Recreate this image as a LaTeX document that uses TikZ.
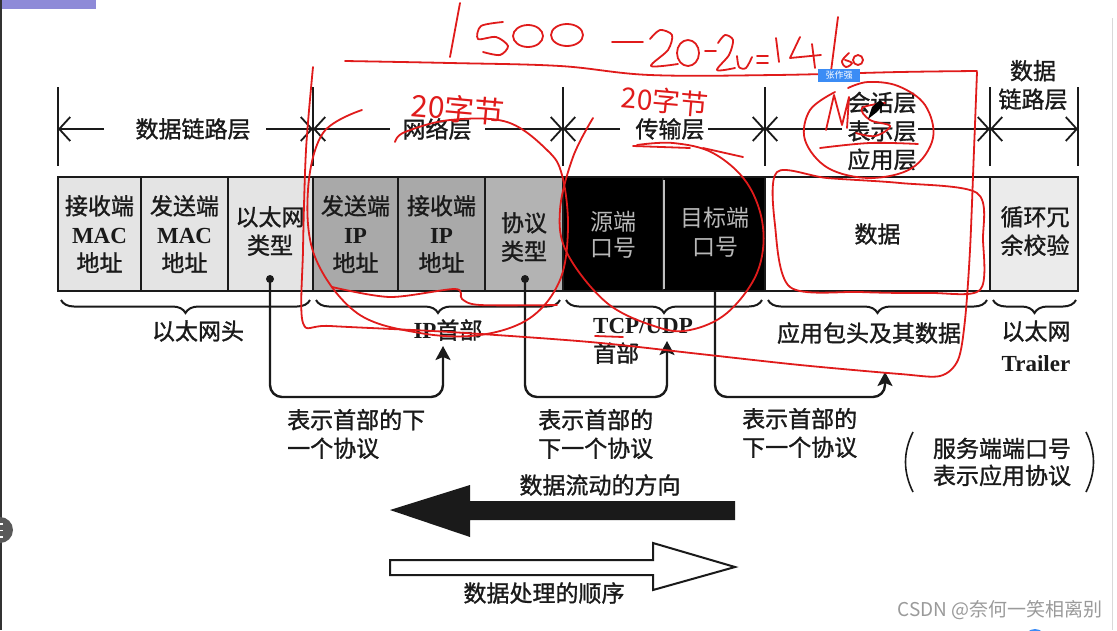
\documentclass[tikz,border=0pt]{standalone}
\usepackage{fontspec}
\setmainfont{Liberation Serif}
\newfontfamily\zh{Noto Sans CJK SC}[FakeBold=1.2]
\newfontfamily\zhl{Noto Sans CJK SC}
\usetikzlibrary{arrows.meta,decorations.pathreplacing,calc}
\definecolor{ink}{HTML}{1A1A1A}
\definecolor{penred}{HTML}{E01B1B}
\definecolor{lightcell}{HTML}{E4E4E4}
\definecolor{ipcell}{HTML}{A9A9A9}
\definecolor{protocell}{HTML}{B3B3B3}
\definecolor{crccell}{HTML}{EBEBEB}
\definecolor{tagblue}{HTML}{3B8CF5}
\definecolor{wmgray}{HTML}{9A9A9A}
\definecolor{barpurple}{HTML}{8E8AD8}
\begin{document}
\begin{tikzpicture}[x=1pt,y=-1pt,
  cell/.style={draw=ink, line width=2pt, minimum height=114pt, inner sep=0pt, align=center,
    font=\fontsize{23}{28.5}\selectfont\zh, text=ink},
  lbl/.style={font=\fontsize{23}{28.5}\selectfont\zh, inner sep=0pt, text=ink},
  vbar/.style={draw=ink, line width=2.4pt},
  dimarr/.style={draw=ink, line width=1.8pt, -{Straight Barb[length=11pt,width=24pt]}},
  dimboth/.style={draw=ink, line width=1.8pt, {Straight Barb[length=11pt,width=24pt]}-{Straight Barb[length=11pt,width=24pt]}},
  brc/.style={draw=ink, line width=2pt, decorate, decoration={brace, amplitude=13pt, mirror}},
  conn/.style={draw=ink, line width=2.4pt, rounded corners=12pt, -{Stealth[length=14pt,width=15pt,inset=3pt]}},
  dotn/.style={circle, fill=ink, inner sep=0pt, minimum size=8pt},
  redpen/.style={draw=penred, line width=1.8pt, line cap=round, line join=round},
  hw/.style={text=penred, inner sep=0pt},
  bigarrow/.style={draw=ink, line width=2pt}
]
\useasboundingbox (0,0) rectangle (1117,630);
\fill[white] (0,0) rectangle (1117,630);

% screen chrome
\fill[barpurple] (0,0) rectangle (96,9);
\fill[black!80] (0,0) rectangle (2,630);
\draw[black!15, line width=1pt] (1112,18) -- (1112,630);
\fill[black!65] (0,530) circle (13);
\fill[white] (0,523) rectangle (3,524.5);
\fill[white] (0,529.5) rectangle (3,531);
\fill[white] (0,536) rectangle (3,537.5);
\fill[tagblue] (1035,640) circle (11);

% ===== top layer dimension lines =====
\coordinate (b0) at (58,129);
\coordinate (b1) at (313,129);
\coordinate (b2) at (563,129);
\coordinate (b3) at (765,129);
\coordinate (b4) at (990,129);
\coordinate (b5) at (1078,129);
\foreach \b in {b0,b1,b2,b3,b4,b5} \draw[vbar] (\b) ++(0,-42) -- ++(0,79);

\node[lbl] (dll) at (193,129) {数据链路层};
\node[lbl] (nwl) at (437,129) {网络层};
\node[lbl] (trl) at (670,129) {传输层};
\node[lbl, align=center] (apl) at (882,131) {会话层\\表示层\\应用层};
\node[lbl, align=center] (dl2) at (1033,85) {数据\\链路层};

\coordinate (a0l) at (104,129); \coordinate (a0r) at (266,129);
\coordinate (a1l) at (390,129); \coordinate (a1r) at (485,129);
\coordinate (a2l) at (620,129); \coordinate (a2r) at (708,129);
\coordinate (a3l) at (842,129); \coordinate (a3r) at (918,129);
\draw[dimarr] (a0l) -- (b0);
\draw[dimarr] (a0r) -- (b1);
\draw[dimarr] (a1l) -- (b1);
\draw[dimarr] (a1r) -- (b2);
\draw[dimarr] (a2l) -- (b2);
\draw[dimarr] (a2r) -- (b3);
\draw[dimarr] (a3l) -- (b3);
\draw[dimarr] (a3r) -- (b4);
\draw[dimboth] (b4) -- (b5);

% ===== frame cells =====
\node[cell, fill=lightcell, minimum width=83pt] (rmac) at (99.5,234) {接收端\\{\rmfamily\bfseries MAC}\\地址};
\node[cell, fill=lightcell, minimum width=87pt] (smac) at (184.5,234) {发送端\\{\rmfamily\bfseries MAC}\\地址};
\node[cell, fill=lightcell, minimum width=85pt] (etype) at (270.5,234) {};
\node[cell, fill=ipcell, minimum width=85pt] (sip) at (355.5,234) {发送端\\{\rmfamily\bfseries IP}\\地址};
\node[cell, fill=ipcell, minimum width=87pt] (dip) at (441.5,234) {接收端\\{\rmfamily\bfseries IP}\\地址};
\node[cell, fill=protocell, minimum width=78pt] (proto) at (524,234) {};
\node[cell, fill=black, minimum width=100pt] (sport) at (613,234) {};
\node[cell, fill=black, minimum width=102pt] (dport) at (714,234) {};
\node[cell, fill=white, minimum width=225pt] (data) at (877.5,234) {数据};
\node[cell, fill=crccell, minimum width=88pt] (crc) at (1034,234) {};
\draw[black!25, line width=1.2pt] (sport.north east) ++(0,4) -- ($(sport.south east)+(0,-3)$);

\node[lbl, align=center] (etypet) at (270,231) {以太网\\类型};
\node[lbl, align=center] (protot) at (524,237) {协议\\类型};
\node[lbl, align=center, text=black!28, font=\fontsize{23}{26.5}\selectfont\zhl] (sportt) at (613,235) {源端\\口号};
\node[lbl, align=center, text=black!28, font=\fontsize{23}{29}\selectfont\zhl] (dportt) at (715,232) {目标端\\口号};
\node[lbl, align=center] (crct) at (1035,231) {循环冗\\余校验};

\node[dotn] (dot1) at (270,279) {};
\node[dotn] (dot2) at (525,279) {};

% ===== braces =====
\draw[brc] (61,300) -- (310,300);
\draw[brc] (316,300) -- (560,300);
\draw[brc] (566,300) -- (762,300);
\draw[brc] (768,300) -- (987,300);
\draw[brc] (993,300) -- (1076,300);

\node[lbl] (ethh) at (198,331) {以太网头};
\node[lbl] (iph) at (448,330) {{\rmfamily\bfseries IP}首部};
\node[lbl, align=left, anchor=west] (tcph) at (593,341) {{\rmfamily\bfseries TCP/UDP}\\首部};
\node[lbl] (apph) at (869,333) {应用包头及其数据};
\node[lbl, align=center] (trlh) at (1036,346) {以太网\\[3pt]{\rmfamily\bfseries Trailer}};

% ===== connectors =====
\coordinate (yb) at (0,397);
\coordinate (t1) at (443,346);
\coordinate (t2) at (667,341);
\coordinate (s3) at (715,292);
\coordinate (t3) at (885,372);
\draw[conn] (dot1.center) -- (dot1.center |- yb) -| (t1);
\draw[conn] (dot2.center) -- (dot2.center |- yb) -| (t2);
\draw[conn] (s3) -- (s3 |- yb) -| (t3);

\node[lbl, align=left, anchor=west] (n1) at (287,434) {表示首部的下\\一个协议};
\node[lbl, align=left, anchor=west] (n2) at (538,434) {表示首部的\\下一个协议};
\node[lbl, align=left, anchor=west] (n3) at (742,433) {表示首部的\\下一个协议};

\node[lbl, align=center, font=\fontsize{23}{27}\selectfont\zh] (svc) at (1002,462) {服务端端口号\\表示应用协议};
\draw[draw=ink, line width=1.6pt] (913,432) .. controls (903,452) and (903,472) .. (913,492);
\draw[draw=ink, line width=1.6pt] (1086,432) .. controls (1096,452) and (1096,472) .. (1086,492);

% ===== big arrows =====
\fill[ink] (390,510) -- (470,485) -- (470,501) -- (735,501) -- (735,520) -- (470,520) -- (470,537) -- cycle;
\draw[bigarrow, fill=white] (390,560) -- (653,560) -- (653,543) -- (735,567) -- (653,590) -- (653,575) -- (390,575) -- cycle;
\node[lbl] (flow) at (600,485) {数据流动的方向};
\node[lbl] (proc) at (544,593) {数据处理的顺序};

% watermark
\node[font=\fontsize{19}{19}\selectfont\zhl, text=wmgray, anchor=east, inner sep=0pt] (wm) at (1103,610) {CSDN @奈何一笑相离别};

% ===== red handwriting: outlines =====
\draw[redpen] plot[smooth, tension=0.6] coordinates {(345,61) (450,63) (560,66) (650,75) (775,75) (900,72) (977,71)};
\draw[redpen] plot[smooth, tension=0.5] coordinates {(313,67) (306,150) (303,250) (303,323) (330,326) (450,332) (590,342) (700,354) (800,365) (900,374) (940,376) (958,360) (965,320) (970,250) (974,150) (977,72)};
\draw[redpen] plot[smooth, tension=0.6] coordinates {(362,110) (323,133) (308,190) (315,257) (357,313) (420,333) (480,335) (530,318) (560,280) (568,227) (562,175) (547,150) (507,122) (450,120) (405,132) (395,142)};
\draw[redpen] plot[smooth, tension=0.5] coordinates {(332,287) (390,297) (455,289) (462,299) (480,305) (557,305)};
\draw[redpen] plot[smooth, tension=0.6] coordinates {(593,118) (573,157) (560,210) (567,253) (607,303) (657,327) (690,330) (727,313) (757,273) (763,227) (747,183) (713,153) (673,143) (637,145)};
\draw[redpen] (633,146) -- (690,148);
\draw[redpen] (703,148) -- (743,157);
\draw[redpen] plot[smooth, tension=0.6] coordinates {(835,92) (810,110) (805,140) (828,168) (870,178) (912,168) (933,138) (925,105) (898,86) (868,82) (848,88)};
\draw[redpen] plot[smooth, tension=0.6] coordinates {(820,148) (870,143) (918,144)};
\draw[redpen] plot[smooth cycle, tension=0.5] coordinates {(777,172) (775,225) (790,287) (860,292) (930,293) (980,290) (983,240) (977,193) (900,183) (827,178)};
\draw[redpen] (595,336) -- (623,337);

% ===== red handwriting: 1500-20-20=1460 =====
\draw[redpen] (460,3) -- (450,57);
\draw[redpen] plot[smooth, tension=0.5] coordinates {(503,22) (481,26) (478,39) (496,37) (508,46) (500,55) (483,52)};
\draw[redpen] (528,36) ellipse [x radius=15, y radius=11];
\draw[redpen] (567,35) ellipse [x radius=16, y radius=11];
\draw[redpen] (612,42) -- (643,42);
\draw[redpen] plot[smooth, tension=0.5] coordinates {(650,39) (660,30) (672,35) (668,50) (651,66) (678,64)};
\draw[redpen] (688,53) ellipse [x radius=11, y radius=13];
\draw[redpen] (705,51) -- (716,51);
\draw[redpen] plot[smooth, tension=0.5] coordinates {(718,43) (725,35) (733,40) (729,55) (717,70) (735,68)};
\draw[redpen] plot[smooth, tension=0.5] coordinates {(737,56) (739,67) (746,68) (752,57)};
\draw[redpen] (757,56) -- (768,56);
\draw[redpen] (757,63) -- (768,63);
\draw[redpen] (776,38) -- (779,62);
\draw[redpen] (800,37) -- (790,58) -- (821,55);
\draw[redpen] (812,44) -- (815,68);
\draw[redpen] (838,17) -- (830,79);
\draw[redpen] plot[smooth, tension=0.6] coordinates {(849,53) (842,61) (846,67) (852,63) (845,60)};
\draw[redpen] (858,60) circle (5);

% ===== red handwriting: 20字节, MS =====
\node[hw, font=\zhl\fontsize{30}{30}\selectfont, rotate=-5] (h4) at (458,109) {20字节};
\node[hw, font=\zhl\fontsize{28}{28}\selectfont, rotate=-5] (h5) at (665,101) {20字节};
\draw[redpen] (826,130) -- (834,95) -- (842,125) -- (849,97) -- (847,128);
\draw[redpen] plot[smooth, tension=0.6] coordinates {(885,103) (862,108) (870,120) (890,126) (875,136) (856,133)};

% tag and cursor
\node[fill=tagblue, text=white, font=\fontsize{9}{9}\selectfont\zhl, inner sep=1pt, minimum width=42pt, minimum height=13pt] (tagn) at (839,75.5) {张作强};
\fill[black] (868,119) -- (872,107) -- (880,100) -- (884,104) -- (877,112) -- cycle;
\end{tikzpicture}
\end{document}
